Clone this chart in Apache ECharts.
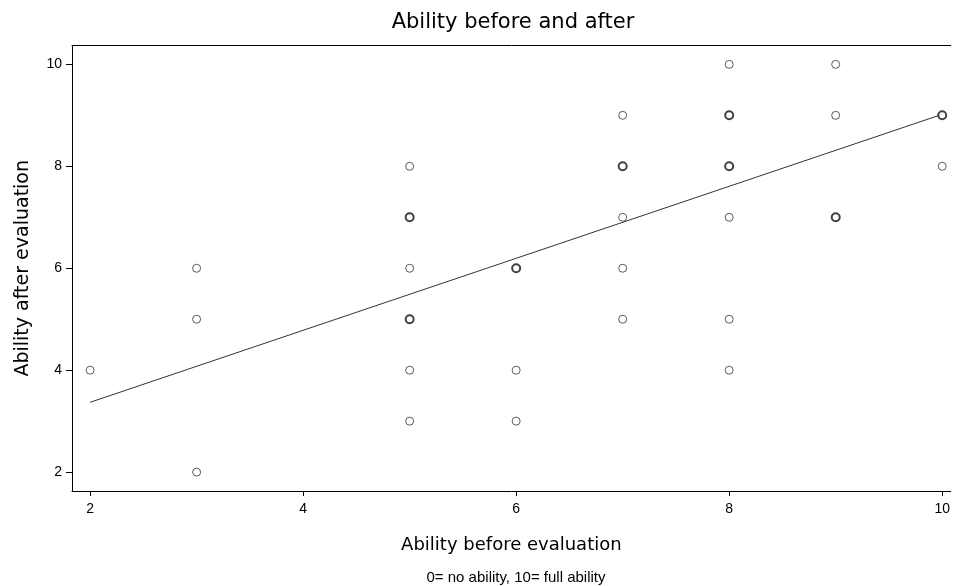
<!DOCTYPE html>
<html>
<head>
<meta charset="utf-8">
<script src="https://cdn.jsdelivr.net/npm/echarts@6/dist/echarts.min.js"></script>
<style>html,body{margin:0;padding:0;background:#fff}#c{width:953px;height:586px}</style>
</head>
<body>
<div id="c"></div>
<script>
// Observed (before, after) pairs; count > 1 means overplotted duplicates (drawn bolder)
var beforeVals = [2, 3, 3, 3, 5, 5, 5, 5, 5, 5, 6, 6, 6, 7, 7, 7, 7, 7, 8, 8, 8, 8, 8, 8, 9, 9, 9, 10, 10];
var afterVals  = [4, 6, 5, 2, 8, 7, 6, 5, 4, 3, 6, 4, 3, 9, 8, 7, 6, 5, 10, 9, 8, 7, 5, 4, 10, 9, 7, 9, 8];
var counts     = [1, 1, 1, 1, 1, 2, 1, 2, 1, 1, 2, 1, 1, 1, 2, 1, 1, 1, 1, 2, 2, 1, 1, 1, 1, 1, 2, 2, 1];
// Fitted regression line endpoints
var fitX = [2, 10];
var fitY = [3.37, 9.02];
var xTicks = [2, 4, 6, 8, 10];
var yTicks = [2, 4, 6, 8, 10];

var single = [], multi = [];
for (var i = 0; i < beforeVals.length; i++) {
  (counts[i] > 1 ? multi : single).push([beforeVals[i], afterVals[i]]);
}
var fitData = fitX.map(function (x, i) { return [x, fitY[i]]; });

var wide = 'DejaVu Sans, sans-serif';
var sans = 'Liberation Sans, Arial, sans-serif';
var chart = echarts.init(document.getElementById('c'));
chart.setOption({
  animation: false,
  backgroundColor: '#fff',
  graphic: [{
    type: 'text', x: 513, y: 23,
    style: { text: 'Ability before and after', fontFamily: wide, fontSize: 21,
      fill: '#000', textAlign: 'center', textVerticalAlign: 'middle' }
  }, {
    type: 'text', x: 516, y: 578,
    style: { text: '0= no ability, 10= full ability', fontFamily: sans, fontSize: 15,
      fill: '#000', textAlign: 'center', textVerticalAlign: 'middle' }
  }],
  grid: { left: 72, right: 0, top: 45.5, bottom: 95, containLabel: false },
  xAxis: [{
    type: 'value', min: 1.83, max: 10.08,
    name: 'Ability before evaluation', nameLocation: 'middle', nameGap: 45,
    nameTextStyle: { fontFamily: wide, fontSize: 18, color: '#000' },
    axisLine: { show: true, onZero: false, lineStyle: { color: '#000', width: 1 } },
    axisTick: { show: true, length: 5, lineStyle: { color: '#000' },
      customValues: xTicks },
    axisLabel: { fontFamily: sans, fontSize: 14, color: '#000', margin: 11,
      customValues: xTicks },
    splitLine: { show: false }
  }, {
    type: 'value', position: 'top', min: 1.83, max: 10.08,
    axisLine: { show: true, onZero: false, lineStyle: { color: '#000', width: 1 } },
    axisTick: { show: false }, axisLabel: { show: false }, splitLine: { show: false }
  }],
  yAxis: {
    type: 'value', min: 1.63, max: 10.37,
    name: 'Ability after evaluation', nameLocation: 'middle', nameGap: 39,
    nameTextStyle: { fontFamily: wide, fontSize: 19, color: '#000' },
    axisLine: { show: true, onZero: false, lineStyle: { color: '#000', width: 1 } },
    axisTick: { show: true, length: 6, lineStyle: { color: '#000' },
      customValues: yTicks },
    axisLabel: { fontFamily: sans, fontSize: 14, color: '#000', margin: 10,
      customValues: yTicks },
    splitLine: { show: false }
  },
  series: [{
    type: 'scatter', data: single, symbol: 'circle', symbolSize: 8,
    itemStyle: { color: '#fff', borderColor: '#333', borderWidth: 1 }
  }, {
    type: 'scatter', data: multi, symbol: 'circle', symbolSize: 8,
    itemStyle: { color: '#fff', borderColor: '#111', borderWidth: 2 }
  }, {
    type: 'line', data: fitData, symbol: 'none', z: 1,
    lineStyle: { color: '#333', width: 1 }
  }]
});
</script>
</body>
</html>
